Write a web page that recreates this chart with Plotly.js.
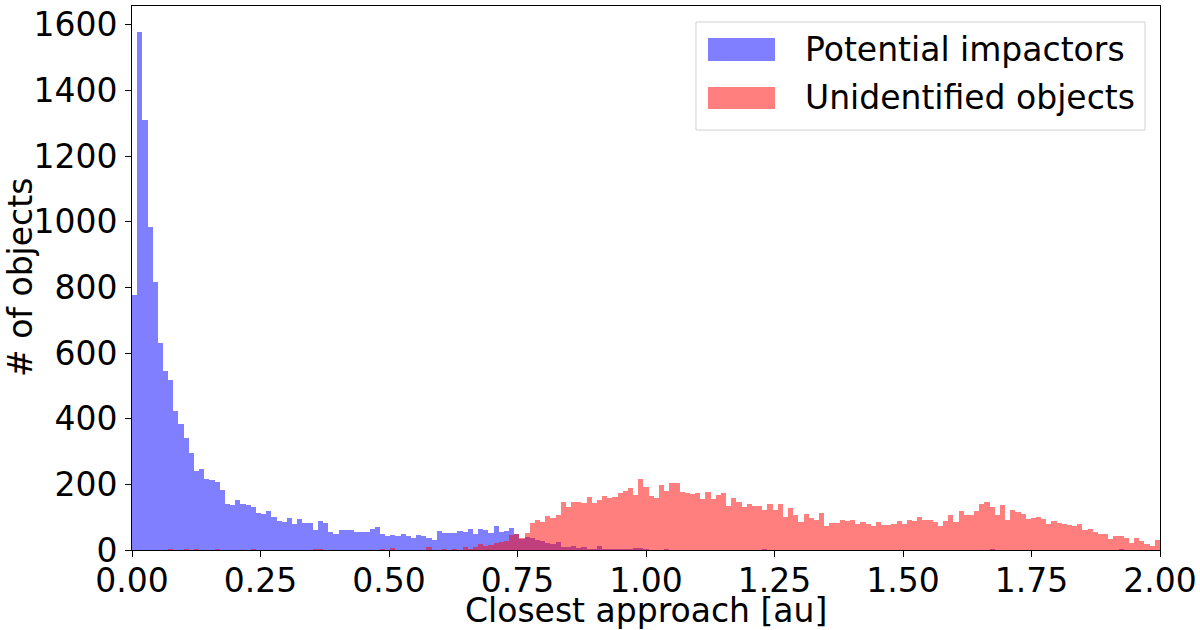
<!DOCTYPE html>
<html>
<head>
<meta charset="utf-8">
<script src="https://cdn.plot.ly/plotly-3.0.1.min.js"></script>
<style>html,body{margin:0;padding:0;background:#fff;}#chart{width:1200px;height:630px;}</style>
</head>
<body>
<div id="chart"></div>
<script>
// Histogram bins: bin k spans [k*binSize, (k+1)*binSize]
const binStart = 0;
const binSize = 0.01005;

const seriesNames = ["Potential impactors", "Unidentified objects"];
const xTitle = "Closest approach [au]";
const yTitle = "# of objects";

const impactors = [
  777, 1578, 1310, 985, 817, 630, 545, 518, 423, 384,
  340, 294, 242, 248, 217, 213, 207, 182, 141, 137,
  151, 140, 136, 132, 112, 110, 118, 101, 88, 86,
  98, 80, 93, 81, 82, 60, 89, 81, 55, 50,
  60, 60, 60, 54, 55, 55, 63, 69, 49, 44,
  46, 42, 48, 42, 38, 45, 44, 38, 31, 58,
  52, 52, 51, 57, 54, 63, 49, 64, 61, 53,
  73, 56, 58, 66, 48, 35, 40, 36, 30, 26,
  20, 18, 23, 8, 10, 11, 6, 10, 4, 3,
  11, 4, 3, 2, 3, 2, 2, 5, 5, 2,
  1, 0, 1, 3, 0, 1, 0, 0, 1, 0,
  0, 1, 0, 0, 0, 0, 0, 0, 0, 0,
  0, 0, 2, 0, 0, 0, 0, 0, 0, 0,
  0, 0, 0, 0, 0, 0, 0, 0, 0, 0,
  0, 0, 0, 0, 1, 0, 0, 0, 0, 0,
  0, 0, 0, 0, 0, 0, 0, 0, 0, 0,
  0, 0, 0, 0, 0, 0, 2, 0, 0, 0,
  0, 0, 0, 0, 0, 0, 0, 0, 0, 0,
  0, 0, 0, 0, 0, 0, 0, 0, 0, 0,
  0, 2, 0, 0, 0, 0, 0, 0, 0
];

const unidentified = [
  0, 0, 0, 0, 0, 0, 0, 2, 0, 0,
  2, 0, 2, 0, 0, 0, 2, 0, 0, 0,
  0, 0, 0, 4, 0, 0, 0, 0, 0, 0,
  0, 1, 0, 0, 0, 3, 3, 1, 0, 0,
  0, 0, 0, 0, 0, 0, 0, 1, 2, 0,
  7, 0, 1, 1, 1, 1, 0, 9, 1, 1,
  2, 1, 2, 1, 8, 4, 10, 17, 13, 15,
  20, 23, 27, 46, 48, 36, 52, 81, 91, 86,
  103, 96, 107, 145, 132, 147, 147, 142, 162, 144,
  152, 166, 157, 162, 173, 180, 188, 169, 215, 192,
  166, 158, 197, 181, 203, 205, 176, 175, 172, 173,
  154, 176, 156, 167, 175, 134, 158, 145, 130, 139,
  133, 133, 122, 141, 123, 139, 102, 128, 106, 84,
  110, 99, 91, 112, 72, 83, 83, 90, 87, 90,
  79, 84, 79, 74, 85, 75, 77, 78, 87, 78,
  91, 88, 102, 90, 90, 86, 73, 87, 106, 85,
  119, 108, 108, 119, 141, 147, 131, 108, 137, 92,
  122, 117, 109, 93, 98, 101, 93, 78, 87, 83,
  78, 76, 73, 78, 60, 63, 56, 49, 49, 32,
  43, 44, 36, 22, 36, 26, 17, 13, 30
];

const xTickVals = [0, 0.25, 0.5, 0.75, 1.0, 1.25, 1.5, 1.75, 2.0];
const yTickVals = [0, 200, 400, 600, 800, 1000, 1200, 1400, 1600];

const colors = ["rgba(0,0,255,0.5)", "rgba(255,0,0,0.5)"];

function centers(arr) { return arr.map((_, k) => binStart + (k + 0.5) * binSize); }

const FONT = "DejaVu Sans, Liberation Sans, sans-serif";
const FS = 33;

const traces = [impactors, unidentified].map((vals, i) => ({
  type: "bar",
  x: centers(vals),
  y: vals,
  width: binSize,
  name: seriesNames[i],
  marker: { color: colors[i], line: { width: 0 } },
  showlegend: false,
  hoverinfo: "skip"
}));

// custom legend (box, swatches, labels) in paper coordinates
const lg = { x0: 0.5486, x1: 0.9854, y0: 0.772, y1: 0.9706 };
const sw = [{ y0: 0.8989, y1: 0.9412 }, { y0: 0.8107, y1: 0.8511 }];
const shapes = [
  { type: "rect", xref: "paper", yref: "paper", x0: lg.x0, x1: lg.x1, y0: lg.y0, y1: lg.y1,
    line: { color: "rgb(210,210,210)", width: 1 }, fillcolor: "rgba(255,255,255,0.8)", layer: "above" }
].concat(sw.map((s, i) => ({
  type: "rect", xref: "paper", yref: "paper", x0: 0.5603, x1: 0.6255, y0: s.y0, y1: s.y1,
  line: { width: 0 }, fillcolor: colors[i], layer: "above"
})));
const annotations = seriesNames.map((n, i) => ({
  xref: "paper", yref: "paper", x: 0.6527, y: (sw[i].y0 + sw[i].y1) / 2,
  xanchor: "left", yanchor: "middle", showarrow: false, text: n,
  font: { family: FONT, size: FS, color: "#000" }
})).concat([
  { xref: "paper", yref: "paper", x: 0.5, y: 0, yshift: -60, xanchor: "center", yanchor: "middle",
    showarrow: false, text: xTitle, font: { family: FONT, size: FS, color: "#000" } },
  { xref: "paper", yref: "paper", x: 0, y: 0.5, xshift: -112, xanchor: "center", yanchor: "middle",
    textangle: -90, showarrow: false, text: yTitle, font: { family: FONT, size: FS, color: "#000" } }
]);

const layout = {
  width: 1200, height: 630,
  margin: { l: 132, r: 40, t: 6, b: 80 },
  paper_bgcolor: "#fff", plot_bgcolor: "#fff",
  barmode: "overlay", bargap: 0,
  font: { family: FONT, size: FS, color: "#000" },
  xaxis: {
    range: [0, 2], tickvals: xTickVals, tickformat: ".2f",
    ticks: "outside", ticklen: 6, tickwidth: 1, tickcolor: "#000",
    showline: true, mirror: true, linecolor: "#000", linewidth: 1,
    showgrid: false, zeroline: false, automargin: false, ticklabelstandoff: -5,
    tickfont: { family: FONT, size: FS, color: "#000" }
  },
  yaxis: {
    range: [0, 1657], tickvals: yTickVals,
    ticks: "outside", ticklen: 6, tickwidth: 1, tickcolor: "#000",
    showline: true, mirror: true, linecolor: "#000", linewidth: 1,
    showgrid: false, zeroline: false, automargin: false, ticklabelstandoff: 1,
    tickfont: { family: FONT, size: FS, color: "#000" }
  },
  shapes: shapes,
  annotations: annotations,
  showlegend: false
};

Plotly.newPlot("chart", traces, layout, { staticPlot: true, displayModeBar: false });
</script>
</body>
</html>
